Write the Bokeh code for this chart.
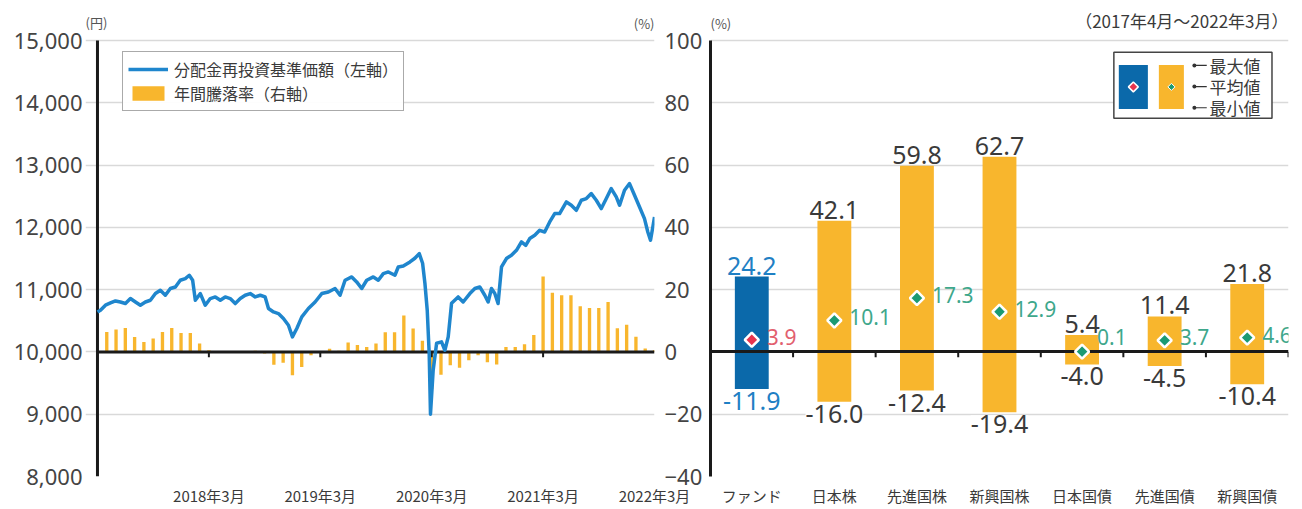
import math
from bokeh.plotting import figure
from bokeh.models import (Range1d, FixedTicker, NumeralTickFormatter, Legend, LegendItem,
                          Label, LabelSet, ColumnDataSource, FactorRange, LinearAxis)
from bokeh.transform import dodge
from bokeh.layouts import row
from bokeh.embed import file_html
from bokeh.resources import INLINE
from bokeh.core.properties import value

JP = "Noto Sans CJK JP"
NUM = "Noto Sans"

# ---------------- data: left chart ----------------
# NAV (分配金再投資基準価額, 円), time in months after end of March 2017
nav_t = [0.0, 0.32, 0.86, 1.40, 1.94, 2.47, 3.01, 3.55, 4.09, 4.62, 5.16, 5.70, 6.24, 6.77,
         7.31, 7.85, 8.39, 8.92, 9.46, 9.89, 10.25, 10.54, 11.08, 11.61, 12.15, 12.69,
         13.23, 13.76, 14.30, 14.84, 15.38, 15.91, 16.45, 16.99, 17.53, 18.06, 18.42, 18.96,
         19.49, 20.03, 20.57, 21.00, 21.47, 22.01, 22.72, 23.44, 24.16, 24.87, 25.59, 26.13,
         26.67, 27.39, 27.92, 28.46, 29.00, 29.71, 30.25, 30.79, 31.33, 32.04,
         32.40, 32.94, 33.66, 34.19, 34.66, 35.02, 35.27, 35.52, 35.73, 35.87, 36.16, 36.53,
         37.06, 37.42, 37.78, 38.14,
         38.85, 39.39, 40.11, 40.65, 41.18, 41.72, 42.08, 42.44, 42.80, 43.15, 43.52, 44.05,
         44.59, 45.13, 45.67, 46.13, 46.56, 47.10, 47.63, 48.17, 48.71, 49.25, 49.78, 50.51,
         51.04, 51.58, 52.12, 52.66, 53.19, 53.73, 54.27, 54.81, 55.34, 55.88, 56.24, 56.77,
         57.31, 57.85, 58.39, 58.92, 59.28, 59.57, 59.82, 60.0]
nav_v = [10642, 10669, 10750, 10786, 10819, 10802, 10777, 10857, 10802, 10750, 10802, 10830,
         10937, 10990, 10910, 11018, 11043, 11151, 11178, 11231, 11151, 10830, 10937, 10750,
         10857, 10883, 10830, 10883, 10857, 10777, 10857, 10910, 10937, 10883, 10910, 10883,
         10697, 10642, 10616, 10536, 10429, 10241, 10376, 10562, 10697, 10802, 10937, 10963,
         11018, 10910, 11151, 11204, 11124, 11018, 11151, 11204, 11151, 11258, 11284, 11231,
         11364, 11380, 11445, 11504, 11579, 11424, 11103, 10669, 9979, 9000, 9706, 10140,
         10161, 10027, 10241, 10782,
         10883, 10802, 10937, 11018, 11043, 10910, 10802, 11018, 10937, 10777, 11364, 11499,
         11552, 11632, 11766, 11712, 11820, 11873, 11953, 11926, 12087, 12221, 12221, 12408,
         12355, 12274, 12435, 12462, 12542, 12435, 12302, 12462, 12623, 12488, 12355, 12595,
         12703, 12515, 12327, 12141, 11926, 11793, 12006, 12167]
assert len(nav_t) == len(nav_v)

# 年間騰落率 (%), one bar per month-end, April 2017 .. March 2022
ret_t = list(range(1, 61))
ret_v = [6.4, 7.2, 7.7, 4.8, 3.2, 4.3, 6.4, 7.7, 6.1, 6.1, 2.7, 0.5,
         0.2, 0.1, 0.3, 0.2, 0.4, -0.5, -4.1, -3.5, -7.5, -4.8, -1.1, 0.3,
         1.0, 0.4, 3.0, 2.2, 1.6, 2.7, 6.3, 6.3, 11.7, 7.5, 3.6, -11.9,
         -7.3, -4.3, -5.1, -2.7, -1.1, -3.3, -4.0, 1.6, 1.6, 2.5, 5.4, 24.2,
         19.0, 18.2, 18.2, 14.7, 14.1, 14.1, 16.0, 7.6, 8.7, 4.9, 1.1, 0.5]

date_ticks = [12, 24, 36, 48, 60]
date_labels = ["2018年3月", "2019年3月", "2020年3月", "2021年3月", "2022年3月"]
yen_ticks = [8000, 9000, 10000, 11000, 12000, 13000, 14000, 15000]
pct_ticks = [-40, -20, 0, 20, 40, 60, 80, 100]

# ---------------- data: right chart ----------------
assets = ["ファンド", "日本株", "先進国株", "新興国株", "日本国債", "先進国債", "新興国債"]
max_v = [24.2, 42.1, 59.8, 62.7, 5.4, 11.4, 21.8]
avg_v = [3.9, 10.1, 17.3, 12.9, 0.1, 3.7, 4.6]
min_v = [-11.9, -16.0, -12.4, -19.4, -4.0, -4.5, -10.4]
period_text = "（2017年4月～2022年3月）"

# ---------------- styles ----------------
LINE_BLUE = "#1f86cd"
ORANGE = "#f8b62d"
FUND_BAR = "#0b69aa"
FUND_TXT = "#1f80c4"
FUND_AVG = "#e8344e"
FUND_AVG_TXT = "#e2606f"
AVG_GREEN = "#1b9a73"
AVG_TXT = "#3ea78b"
DARK = "#1a1a1a"
GRID = "#d9d9d9"
TXT = "#3a3a3a"

# headroom above the top gridline (for unit labels), and room left of the axis line
YEN_TOP = 15578
PCT_TOP = 111.56
T_LEFT = -1.29

H = 508
BOTTOM = 32
TOP = 4

# ================= left figure =================
p1 = figure(width=705, height=H, x_range=Range1d(T_LEFT, 60),
            y_range=Range1d(8000, YEN_TOP),
            output_backend="svg", toolbar_location=None,
            min_border_left=85, min_border_right=50, min_border_top=TOP,
            min_border_bottom=BOTTOM)
p1.extra_y_ranges = {"pct": Range1d(-40, PCT_TOP)}
p1.outline_line_color = None
p1.xgrid.visible = False
p1.ygrid.ticker = FixedTicker(ticks=yen_ticks)
p1.ygrid.grid_line_color = GRID
p1.ygrid.grid_line_width = 1.5
p1.ygrid.bounds = (0, 60)

ya = p1.yaxis[0]
ya.ticker = FixedTicker(ticks=yen_ticks)
ya.formatter = NumeralTickFormatter(format="0,0")
ya.major_label_text_font = NUM
ya.major_label_text_font_size = "22px"
ya.major_label_text_color = "#444"
ya.axis_line_color = None
ya.major_tick_line_color = None
ya.minor_tick_line_color = None
ya.major_tick_out = 0
ya.major_label_standoff = 3

ra = LinearAxis(y_range_name="pct", ticker=FixedTicker(ticks=pct_ticks),
                axis_line_color=None, major_tick_line_color=None,
                minor_tick_line_color=None, major_tick_out=0, major_label_standoff=10,
                major_label_text_font=NUM, major_label_text_font_size="22px",
                major_label_text_color="#444")
p1.add_layout(ra, "right")

xa = p1.xaxis[0]
xa.ticker = FixedTicker(ticks=date_ticks)
xa.major_label_overrides = dict(zip(date_ticks, date_labels))
xa.major_label_text_font = JP
xa.major_label_text_font_size = "15px"
xa.major_label_text_color = TXT
xa.axis_line_color = None
xa.major_tick_line_color = None
xa.minor_tick_line_color = None
xa.major_tick_out = 0
xa.major_label_standoff = 8

bars = p1.vbar(x=ret_t, top=ret_v, bottom=0, width=0.36, fill_color=ORANGE,
               line_color=None, y_range_name="pct")
# zero line and the left axis line
p1.segment(x0=[nav_t[0]], y0=[10000], x1=[nav_t[-1]], y1=[10000], line_color=DARK,
           line_width=3)
p1.segment(x0=[nav_t[0]], y0=[yen_ticks[0]], x1=[nav_t[0]], y1=[yen_ticks[-1]],
           line_color=DARK, line_width=3)
p1.segment(x0=date_ticks[:-1], y0=0, x1=date_ticks[:-1], y1=-1.7, line_color=DARK,
           line_width=2, y_range_name="pct")
nav_line = p1.line(nav_t, nav_v, line_color=LINE_BLUE, line_width=3.5, line_join="round")

legend = Legend(items=[LegendItem(label="分配金再投資基準価額（左軸）", renderers=[nav_line]),
                       LegendItem(label="年間騰落率（右軸）", renderers=[bars])],
                location=(37, 365), label_text_font=JP, label_text_font_size="16px",
                label_text_color=TXT, glyph_width=40, glyph_height=18, label_height=18,
                spacing=0, padding=5, margin=0, label_standoff=6,
                border_line_color="#555", border_line_width=1.5)
p1.add_layout(legend)

p1.add_layout(Label(x=T_LEFT, y=15000, text="(円)", x_offset=0, y_offset=9,
                    text_baseline="bottom", text_font=JP, text_font_size="13px",
                    text_color="#555"))
p1.add_layout(Label(x=60, y=15000, text="(%)", x_offset=0, y_offset=8, text_align="right",
                    text_baseline="bottom", text_font=JP, text_font_size="13px",
                    text_color="#555"))

# ================= right figure =================
p2 = figure(width=589, height=H, x_range=FactorRange(factors=assets),
            y_range=Range1d(-40, PCT_TOP), output_backend="svg", toolbar_location=None,
            min_border_left=5, min_border_right=6, min_border_top=TOP,
            min_border_bottom=BOTTOM)
p2.outline_line_color = None
p2.xgrid.visible = False
p2.ygrid.ticker = FixedTicker(ticks=pct_ticks)
p2.ygrid.grid_line_color = GRID
p2.ygrid.grid_line_width = 1.5

ya2 = p2.yaxis[0]
ya2.ticker = FixedTicker(ticks=[])
ya2.bounds = (pct_ticks[0], pct_ticks[-1])
ya2.major_label_standoff = 0
ya2.axis_line_color = DARK
ya2.axis_line_width = 3
ya2.major_tick_line_color = None
ya2.minor_tick_line_color = None
ya2.major_tick_out = 0

xa2 = p2.xaxis[0]
xa2.major_label_text_font = JP
xa2.major_label_text_font_size = "15px"
xa2.major_label_text_color = TXT
xa2.axis_line_color = None
xa2.major_tick_line_color = None
xa2.major_tick_out = 0
xa2.major_label_standoff = 8

is_fund = [a == assets[0] for a in assets]
src = ColumnDataSource(dict(
    asset=assets, mx=max_v, mn=min_v, av=avg_v,
    mx_txt=[f"{v:.1f}" for v in max_v],
    mn_txt=[f"{v:.1f}" for v in min_v],
    av_txt=[f"{v:.1f}" for v in avg_v],
    bar_color=[FUND_BAR if f else ORANGE for f in is_fund],
    val_color=[FUND_TXT if f else TXT for f in is_fund],
    dia_color=[FUND_AVG if f else AVG_GREEN for f in is_fund],
    av_color=[FUND_AVG_TXT if f else AVG_TXT for f in is_fund],
    av_dy=[15 if abs(v) < 1 else 3 for v in avg_v],
))

p2.vbar(x="asset", bottom="mn", top="mx", width=0.41, fill_color="bar_color",
        line_color=None, source=src)
p2.hspan(y=[0], line_color=DARK, line_width=3)
p2.segment(x0=dodge("asset", 0.5, range=p2.x_range), y0=0,
           x1=dodge("asset", 0.5, range=p2.x_range), y1=-1.7,
           line_color=DARK, line_width=2, source=src)
p2.scatter(x="asset", y="av", marker="square", angle=math.pi / 4, size=10,
           fill_color="dia_color", line_color="white", line_width=2.5, source=src)

p2.add_layout(LabelSet(x="asset", y="mx", text="mx_txt", text_align="center",
                       text_baseline="bottom", y_offset=2, text_color="val_color",
                       text_font=value(NUM), text_font_size="25px",
                       background_fill_color="white", source=src))
p2.add_layout(LabelSet(x="asset", y="mn", text="mn_txt", text_align="center",
                       text_baseline="top", y_offset=-3, text_color="val_color",
                       text_font=value(NUM), text_font_size="25px",
                       background_fill_color="white", source=src))
p2.add_layout(LabelSet(x="asset", y="av", text="av_txt", text_align="left",
                       text_baseline="middle", x_offset=15, y_offset="av_dy",
                       text_color="av_color", text_font=value(NUM),
                       text_font_size="21px", source=src))

p2.add_layout(Label(x=0, y=100, text="(%)", x_offset=0, y_offset=8,
                    text_baseline="bottom", text_font=JP, text_font_size="13px",
                    text_color="#555"))
p2.add_layout(Label(x=len(assets), y=100, text=period_text, x_offset=0, y_offset=8,
                    text_align="right", text_baseline="bottom", text_font=JP,
                    text_font_size="17px", text_color=TXT))

# legend of the right chart (drawn in the chart's own coordinates)
leg_rows = [92.0, 85.2, 78.4]
leg_names = ["最大値", "平均値", "最小値"]
p2.quad(left=[4.885], right=[6.80], bottom=[75.0], top=[96.2], fill_color="white",
        line_color="#444", line_width=1.5)
p2.quad(left=[4.945], right=[5.297], bottom=[78.0], top=[92.1], fill_color=FUND_BAR,
        line_color=None)
p2.quad(left=[5.43], right=[5.733], bottom=[78.0], top=[92.1], fill_color=ORANGE,
        line_color=None)
p2.scatter(x=[5.121], y=[85.1], marker="square", angle=math.pi / 4, size=7,
           fill_color=FUND_AVG, line_color="white", line_width=1.5)
p2.scatter(x=[5.582], y=[85.1], marker="square", angle=math.pi / 4, size=5,
           fill_color=AVG_GREEN, line_color="white", line_width=1)
p2.segment(x0=[5.86] * 3, x1=[6.01] * 3, y0=leg_rows, y1=leg_rows, line_color="#333",
           line_width=1.2)
p2.scatter(x=[5.86] * 3, y=leg_rows, marker="circle", size=4, fill_color="#333",
           line_color=None)
p2.add_layout(LabelSet(x="x", y="y", text="t", text_align="left", text_baseline="middle",
                       x_offset=2, text_font=value(JP), text_font_size="17px",
                       text_color=TXT,
                       source=ColumnDataSource(dict(x=[6.02] * 3, y=leg_rows, t=leg_names))))

layout = row(p1, p2)
open("out.html", "w").write(file_html(layout, INLINE))
